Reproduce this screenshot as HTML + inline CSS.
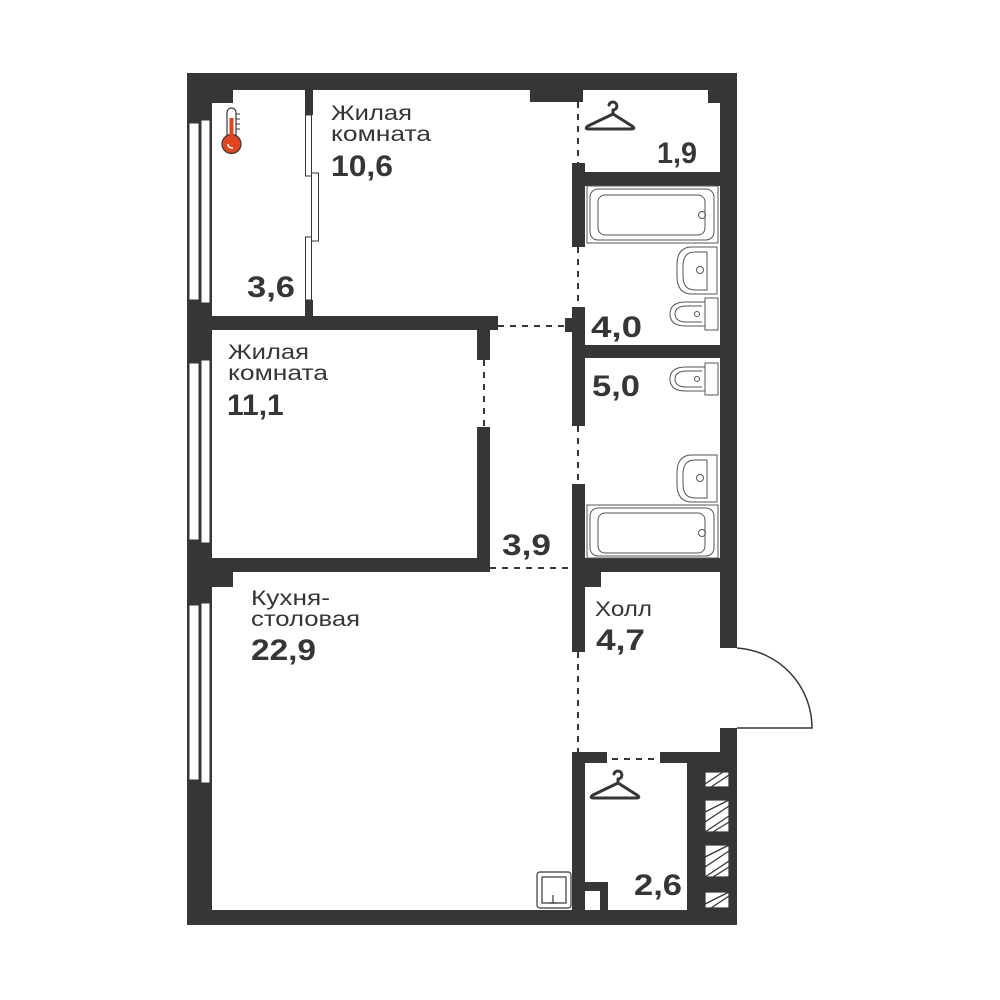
<!DOCTYPE html>
<html><head><meta charset="utf-8"><style>
html,body{margin:0;padding:0;background:#fff;width:1000px;height:1000px;overflow:hidden}
svg text{font-family:"Liberation Sans",sans-serif;fill:#363636}
.l{font-size:21px}
.n{font-size:30px;font-weight:bold}
</style></head><body>
<svg width="1000" height="1000" viewBox="0 0 1000 1000" xmlns="http://www.w3.org/2000/svg">
<g fill="#363636">
<rect x="187" y="73" width="550" height="17"/>
<rect x="187" y="73" width="25" height="852"/>
<rect x="187" y="910" width="550" height="15"/>
<rect x="720" y="73" width="17" height="575"/>
<rect x="720" y="728" width="17" height="197"/>
<rect x="187" y="73" width="46" height="30"/>
<rect x="530" y="73" width="53" height="29"/>
<rect x="708" y="73" width="29" height="30"/>
<rect x="305" y="90" width="8" height="240"/>
<rect x="187" y="316" width="303" height="14"/>
<rect x="487" y="316" width="11" height="14"/>
<rect x="565" y="318" width="10" height="14"/>
<rect x="477" y="316" width="13" height="44"/>
<rect x="477" y="427" width="13" height="145"/>
<rect x="187" y="558" width="303" height="14"/>
<rect x="187" y="558" width="46" height="29"/>
<rect x="572" y="163" width="13" height="84"/>
<rect x="572" y="307" width="13" height="119"/>
<rect x="572" y="484" width="13" height="168"/>
<rect x="572" y="172" width="148" height="14"/>
<rect x="572" y="345" width="148" height="13"/>
<rect x="572" y="558" width="148" height="14"/>
<rect x="585" y="572" width="16" height="15"/>
<rect x="572" y="752" width="35" height="11"/>
<rect x="660" y="752" width="77" height="11"/>
<rect x="572" y="752" width="13" height="173"/>
<rect x="687" y="752" width="50" height="173"/>
<rect x="585" y="882" width="23" height="28"/>
</g>
<g fill="#fff">
<rect x="585" y="891" width="15" height="19"/>
<rect x="189" y="123" width="10" height="177" stroke="#363636" stroke-width="1"/>
<rect x="201" y="120" width="9" height="183" stroke="#363636" stroke-width="1"/>
<rect x="189" y="363" width="10" height="177" stroke="#363636" stroke-width="1"/>
<rect x="201" y="360" width="9" height="183" stroke="#363636" stroke-width="1"/>
<rect x="189" y="605" width="10" height="175" stroke="#363636" stroke-width="1"/>
<rect x="201" y="603" width="9" height="180" stroke="#363636" stroke-width="1"/>
<rect x="304" y="115" width="10" height="185"/>
<rect x="305.5" y="115" width="6" height="61" stroke="#363636" stroke-width="1"/>
<rect x="311.5" y="173" width="7" height="68" stroke="#363636" stroke-width="1"/>
<rect x="305.5" y="237" width="6" height="63" stroke="#363636" stroke-width="1"/>
</g>
<g fill="#fff" stroke="#363636" stroke-width="1.2">
<rect x="705" y="772" width="24" height="15"/>
<rect x="705" y="800" width="24" height="32"/>
<rect x="705" y="845" width="24" height="32"/>
<rect x="705" y="892" width="24" height="16"/>
</g>
<g stroke="#363636" stroke-width="1.3">
<path d="M705 784l18-12M711 787l18-12M705 812l24-12M705 822l24-16M705 832l24-16M713 832l16-10M705 857l24-12M705 867l24-16M705 877l24-16M713 877l16-10M705 904l24-12M711 908l18-12"/>
</g>
<g stroke="#363636" stroke-width="2" stroke-dasharray="6,6" fill="none">
<line x1="578" y1="102" x2="578" y2="163"/>
<line x1="578" y1="247" x2="578" y2="307"/>
<line x1="578" y1="426" x2="578" y2="484"/>
<line x1="578" y1="652" x2="578" y2="752"/>
<line x1="498" y1="326" x2="565" y2="326"/>
<line x1="484" y1="360" x2="484" y2="427"/>
<line x1="490" y1="568" x2="572" y2="568"/>
<line x1="612" y1="759" x2="657" y2="759"/>
</g>
<path d="M737 648 A80 80 0 0 1 812 728 L737 728" fill="none" stroke="#363636" stroke-width="1.5"/>
<g fill="none" stroke="#555" stroke-width="1">
<rect x="587" y="186" width="131" height="57"/>
<rect x="590" y="189" width="124" height="51" rx="8"/>
<rect x="598" y="195" width="107" height="40" rx="7"/>
<circle cx="702" cy="215" r="3.5"/>
<rect x="587" y="505" width="131" height="53"/>
<rect x="590" y="508" width="124" height="48" rx="8"/>
<rect x="598" y="513" width="107" height="40" rx="7"/>
<circle cx="702" cy="533" r="3.5"/>
<path d="M717 247 H692 Q677 247 677 265 V276 Q677 294 692 294 H717 Z"/>
<path d="M707 252 H695 Q683 252 683 266 V276 Q683 290 695 290 H707 Z"/>
<circle cx="700" cy="270" r="3.5"/>
<path d="M717 455 H692 Q677 455 677 473 V484 Q677 502 692 502 H717 Z"/>
<path d="M707 460 H695 Q683 460 683 474 V484 Q683 498 695 498 H707 Z"/>
<circle cx="700" cy="478" r="3.5"/>
<rect x="705" y="298" width="13" height="32"/>
<path d="M705 302 H686 Q670 302 670 314 Q670 326 686 326 H705"/>
<path d="M702 306 H687 Q675 306 675 314 Q675 322 687 322 H702"/>
<circle cx="697" cy="314" r="2.5"/>
<rect x="705" y="363" width="13" height="32"/>
<path d="M705 367 H686 Q670 367 670 379 Q670 391 686 391 H705"/>
<path d="M702 371 H687 Q675 371 675 379 Q675 387 687 387 H702"/>
<circle cx="697" cy="379" r="2.5"/>
</g>
<g fill="none" stroke="#363636" stroke-width="1.2">
<rect x="537" y="872" width="34" height="36" rx="3"/>
<rect x="542" y="877" width="24" height="26"/>
<path d="M553 895 v8 M549 903 h8"/>
</g>
<g fill="none" stroke="#363636" stroke-width="3" stroke-linecap="round" stroke-linejoin="round">
<path d="M609 105 a4 4 0 1 1 4 5 v4 L588 126 Q584 129 589 129 H631 Q636 129 632 126 L613 114"/>
<path d="M614 774 a4 4 0 1 1 4 5 v4 L593 795 Q589 798 594 798 H636 Q641 798 637 795 L618 783"/>
</g>
<g>
<rect x="227" y="108" width="9" height="33" rx="4.5" fill="#fff" stroke="#363636" stroke-width="1.2"/>
<circle cx="231.5" cy="144" r="9.5" fill="#e0451f" stroke="#363636" stroke-width="1.2"/>
<rect x="229.5" y="118" width="4" height="26" fill="#e0451f"/>
<path d="M236 114h4M236 119h4M236 124h4M236 129h4" stroke="#363636" stroke-width="1"/>
<path d="M228 144 q0 4 5 4" fill="none" stroke="#fff" stroke-width="1.5"/>
</g>
<text class="l" x="331" y="120" textLength="81" lengthAdjust="spacingAndGlyphs">Жилая</text>
<text class="l" x="331" y="141" textLength="100" lengthAdjust="spacingAndGlyphs">комната</text>
<text class="n" x="331" y="176" textLength="62" lengthAdjust="spacingAndGlyphs">10,6</text>
<text class="n" x="247" y="297" textLength="48" lengthAdjust="spacingAndGlyphs">3,6</text>
<text class="n" x="657" y="163" textLength="40" lengthAdjust="spacingAndGlyphs">1,9</text>
<text class="n" x="591" y="337" textLength="51" lengthAdjust="spacingAndGlyphs">4,0</text>
<text class="n" x="592" y="396" textLength="48" lengthAdjust="spacingAndGlyphs">5,0</text>
<text class="l" x="228" y="359" textLength="81" lengthAdjust="spacingAndGlyphs">Жилая</text>
<text class="l" x="228" y="380" textLength="100" lengthAdjust="spacingAndGlyphs">комната</text>
<text class="n" x="227" y="415">11,1</text>
<text class="n" x="502" y="555" textLength="49" lengthAdjust="spacingAndGlyphs">3,9</text>
<text class="l" x="251" y="605" textLength="79" lengthAdjust="spacingAndGlyphs">Кухня-</text>
<text class="l" x="251" y="626" textLength="109" lengthAdjust="spacingAndGlyphs">столовая</text>
<text class="n" x="251" y="660" textLength="65" lengthAdjust="spacingAndGlyphs">22,9</text>
<text class="l" x="595" y="616" textLength="57" lengthAdjust="spacingAndGlyphs">Холл</text>
<text class="n" x="596" y="650" textLength="49" lengthAdjust="spacingAndGlyphs">4,7</text>
<text class="n" x="634" y="895" textLength="48" lengthAdjust="spacingAndGlyphs">2,6</text>
</svg>
</body></html>
